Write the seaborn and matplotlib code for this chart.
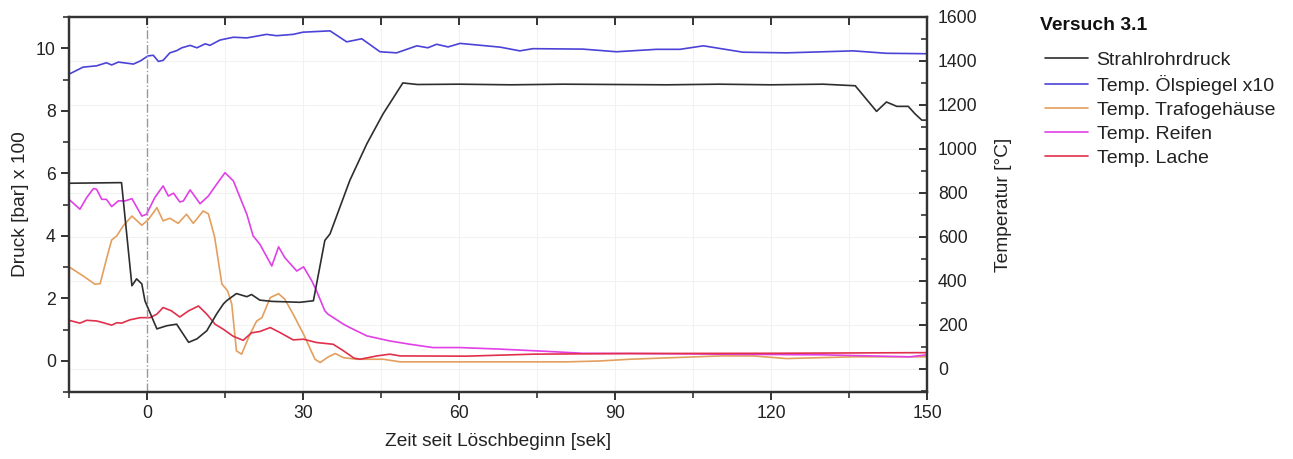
import matplotlib
matplotlib.use("Agg")
import matplotlib.pyplot as plt
import seaborn as sns
import numpy as np
from matplotlib.ticker import MultipleLocator
from matplotlib.lines import Line2D

# ---------------- data ----------------
t_druck = [-15, -4.9, -2.9, -2.0, -1.0, -0.4, 1.9, 3.8, 5.7, 8.0, 9.6, 11.5, 13.4, 14.7, 15.3,
           17.2, 19.2, 20.1, 21.7, 24, 29.4, 32, 34.2, 35.2, 39, 42.3, 45.4, 49.2, 52, 60, 70,
           80, 90, 100, 110, 120, 130, 136.2, 140.3, 142.2, 144.2, 146.4, 147.7, 149, 150]
druck = [5.68, 5.70, 2.40, 2.62, 2.46, 1.92, 1.02, 1.12, 1.17, 0.59, 0.70, 0.96, 1.50, 1.82, 1.92,
         2.15, 2.05, 2.12, 1.94, 1.90, 1.87, 1.92, 3.85, 4.06, 5.77, 6.95, 7.90, 8.89, 8.84, 8.85, 8.83,
         8.85, 8.84, 8.83, 8.85, 8.83, 8.85, 8.80, 7.98, 8.28, 8.14, 8.14, 7.90, 7.70, 7.70]

t_oel = [-15, -12.3, -9.7, -7.8, -6.8, -5.5, -2.6, -1.3, 0.2, 1.2, 2.2, 3.1, 4.4, 5.7, 6.7, 8.3,
         9.6, 11.2, 12.1, 14, 16.6, 19.2, 23, 24.9, 28.1, 30, 35.2, 38.4, 41.3, 44.8, 48, 51.9,
         54, 55.7, 57.9, 60.2, 67.9, 71.7, 74.2, 83.8, 90.3, 98, 102.5, 107, 114.6, 123, 135.8,
         142.2, 150]
temp_oel = [1340, 1372, 1378, 1392, 1382, 1395, 1386, 1400, 1423, 1426, 1398, 1403, 1437, 1447,
            1460, 1471, 1460, 1478, 1471, 1495, 1508, 1505, 1521, 1515, 1521, 1531, 1537, 1487,
            1501, 1442, 1437, 1469, 1460, 1476, 1464, 1480, 1463, 1446, 1456, 1454, 1442, 1453,
            1453, 1469, 1440, 1437, 1446, 1435, 1433]

t_trafo = [-15, -12.3, -10, -9, -7.8, -6.8, -5.8, -4.6, -2.9, -1, 0.3, 1.9, 3.1, 4.4, 6, 7.6,
           8.9, 10.8, 11.8, 13, 14.4, 15.5, 16.3, 17.2, 18.2, 19.8, 21.1, 22.1, 23.7, 25.3,
           26.5, 28.1, 30.1, 32.3, 33.3, 34.9, 36.2, 37.8, 40.3, 45.4, 48.7, 61.5, 80.7, 87.1,
           92.9, 110.2, 116.6, 123, 135.8, 150]
temp_trafo = [464, 423, 385, 388, 499, 586, 605, 650, 695, 653, 680, 733, 673, 685, 662, 703,
              662, 718, 705, 600, 386, 355, 295, 82, 67, 158, 218, 233, 324, 342,
              317, 249, 158, 44, 29, 55, 70, 51, 44, 44, 32, 32, 32, 36,
              44, 59, 59, 47, 55, 55]

t_reifen = [-15, -12.9, -11.6, -10.3, -9.7, -8.7, -7.8, -6.8, -5.5, -4.2, -2.9, -1, -0.1, 1.5,
            3.1, 4.1, 5.1, 6.3, 7, 8.3, 10.2, 11.8, 13.4, 15, 16.6, 19.2, 20.4, 21.7, 24, 25.3,
            26.5, 28.8, 30.1, 31.7, 32.6, 34.2, 34.8, 37.8, 39, 42.3, 46.7, 50.6, 55, 60.2,
            67.9, 77.5, 83.8, 92.9, 110, 130, 146.7, 150]
temp_reifen = [771, 726, 779, 820, 817, 771, 771, 738, 764, 764, 774, 695, 703, 779,
               832, 786, 799, 759, 764, 814, 751, 786, 840, 892, 855, 703, 605, 567, 468, 555,
               506, 445, 464, 400, 355, 264, 249, 203, 188, 150, 127, 112, 97, 97,
               90, 79, 71, 70, 67, 64, 55, 64]

t_lache = [-15, -12.9, -11.6, -9.7, -8.4, -6.8, -5.8, -4.9, -3.3, -1.3, 0.6, 1.9, 3.1, 4.7,
           6.3, 8, 9.9, 11.5, 13.1, 14.7, 16.6, 18.5, 20.1, 21.7, 23.7, 25.6, 28.1, 30.1, 32.6,
           35.8, 37.8, 39.8, 41, 44.2, 46.7, 48.7, 61.5, 74.3, 92.9, 120, 150]
temp_lache = [221, 208, 221, 218, 210, 199, 210, 208, 223, 233, 233, 249, 279, 264,
              236, 264, 286, 249, 203, 180, 148, 130, 164, 170, 188, 165, 132, 135, 120,
              112, 82, 49, 44, 59, 67, 59, 58, 67, 70, 71, 74]

labels = ["Strahlrohrdruck", "Temp. Ölspiegel x10", "Temp. Trafogehäuse", "Temp. Reifen", "Temp. Lache"]
colors = ["#2e2e2e", "#4b43d8", "#e39f5e", "#e040e6", "#e0304c"]

# ---------------- style ----------------
sns.set_theme(style="white")
plt.rcParams["font.family"] = ["Liberation Sans", "DejaVu Sans"]
plt.rcParams["axes.unicode_minus"] = False

fig = plt.figure(figsize=(12.93, 4.59), dpi=100)
ax = fig.add_axes([69 / 1293, 1 - 392 / 459, (927 - 69) / 1293, (392 - 17) / 459])
ax2 = ax.twinx()

ax2.set_axisbelow(True)
ax.set_zorder(ax2.get_zorder() + 1)
ax.patch.set_visible(False)

lw = 1.2
sns.lineplot(x=t_druck, y=druck, ax=ax, color=colors[0], lw=lw, legend=False)
sns.lineplot(x=t_oel, y=temp_oel, ax=ax2, color=colors[1], lw=lw, legend=False)
sns.lineplot(x=t_trafo, y=temp_trafo, ax=ax2, color=colors[2], lw=lw, legend=False)
sns.lineplot(x=t_reifen, y=temp_reifen, ax=ax2, color=colors[3], lw=lw, legend=False)
sns.lineplot(x=t_lache, y=temp_lache, ax=ax2, color=colors[4], lw=lw, legend=False)

ax.axvline(0, color="#999999", lw=1.0, ls="-.", zorder=0)

ax.set_xlim(-15, 150)
ax.set_ylim(-1, 11)
ax2.set_ylim(-105, 1600)

ax.xaxis.set_major_locator(MultipleLocator(30))
ax.xaxis.set_minor_locator(MultipleLocator(15))
ax.yaxis.set_major_locator(MultipleLocator(2))
ax.yaxis.set_minor_locator(MultipleLocator(1))
ax2.yaxis.set_major_locator(MultipleLocator(200))
ax2.yaxis.set_minor_locator(MultipleLocator(100))

for x in np.arange(15, 150, 15):
    ax2.axvline(x, color="#f2f2f2", lw=0.8, zorder=0)
for y in np.arange(0, 1600, 200):
    ax2.axhline(y, color="#f2f2f2", lw=0.8, zorder=0)

spine_c = "#333333"
for a in (ax, ax2):
    for s in a.spines.values():
        s.set_color(spine_c)
        s.set_linewidth(1.6)

tick_fs = 12.7
ax.tick_params(axis="x", which="both", bottom=True, top=False, direction="out",
               colors=spine_c, labelsize=tick_fs, labelcolor="#222222")
ax.tick_params(axis="x", which="major", length=6, width=1.4)
ax.tick_params(axis="x", which="minor", length=4, width=1.2)
ax.tick_params(axis="y", which="both", left=True, direction="out", colors=spine_c,
               labelsize=tick_fs, labelcolor="#222222")
ax.tick_params(axis="y", which="major", length=6, width=1.4)
ax.tick_params(axis="y", which="minor", length=4, width=1.2)
ax2.tick_params(axis="y", which="both", right=True, direction="in", colors=spine_c,
                labelsize=tick_fs, labelcolor="#222222", pad=8)
ax2.tick_params(axis="y", which="major", length=6, width=1.4)
ax2.tick_params(axis="y", which="minor", length=4, width=1.2)

sec = ax.secondary_xaxis("top")
sec.xaxis.set_major_locator(MultipleLocator(15))
sec.tick_params(axis="x", direction="in", length=6, width=1.4, colors=spine_c, labeltop=False)
sec.spines["top"].set_visible(False)

lab_fs = 13.8
ax.set_xlabel("Zeit seit Löschbeginn [sek]", fontsize=lab_fs, color="#222222", labelpad=8)
ax.set_ylabel("Druck [bar] x 100", fontsize=lab_fs, color="#222222", labelpad=5)
ax2.set_ylabel("Temperatur [°C]", fontsize=lab_fs, color="#222222", labelpad=12)

# legend
fig.text(1040 / 1293, 1 - 25 / 459, "Versuch 3.1", fontsize=13.9, fontweight="bold",
         va="center", ha="left", color="#111111")
handles = [Line2D([0], [0], color=c, lw=1.2) for c in colors]
fig.legend(handles, labels, loc="upper left", bbox_to_anchor=(1045 / 1293, 1 - 51 / 459),
           frameon=False, fontsize=14, handlelength=2.2, handletextpad=0.45,
           labelspacing=0.33, borderpad=0, borderaxespad=0, labelcolor="#222222")

fig.savefig("out.png", dpi=100)
